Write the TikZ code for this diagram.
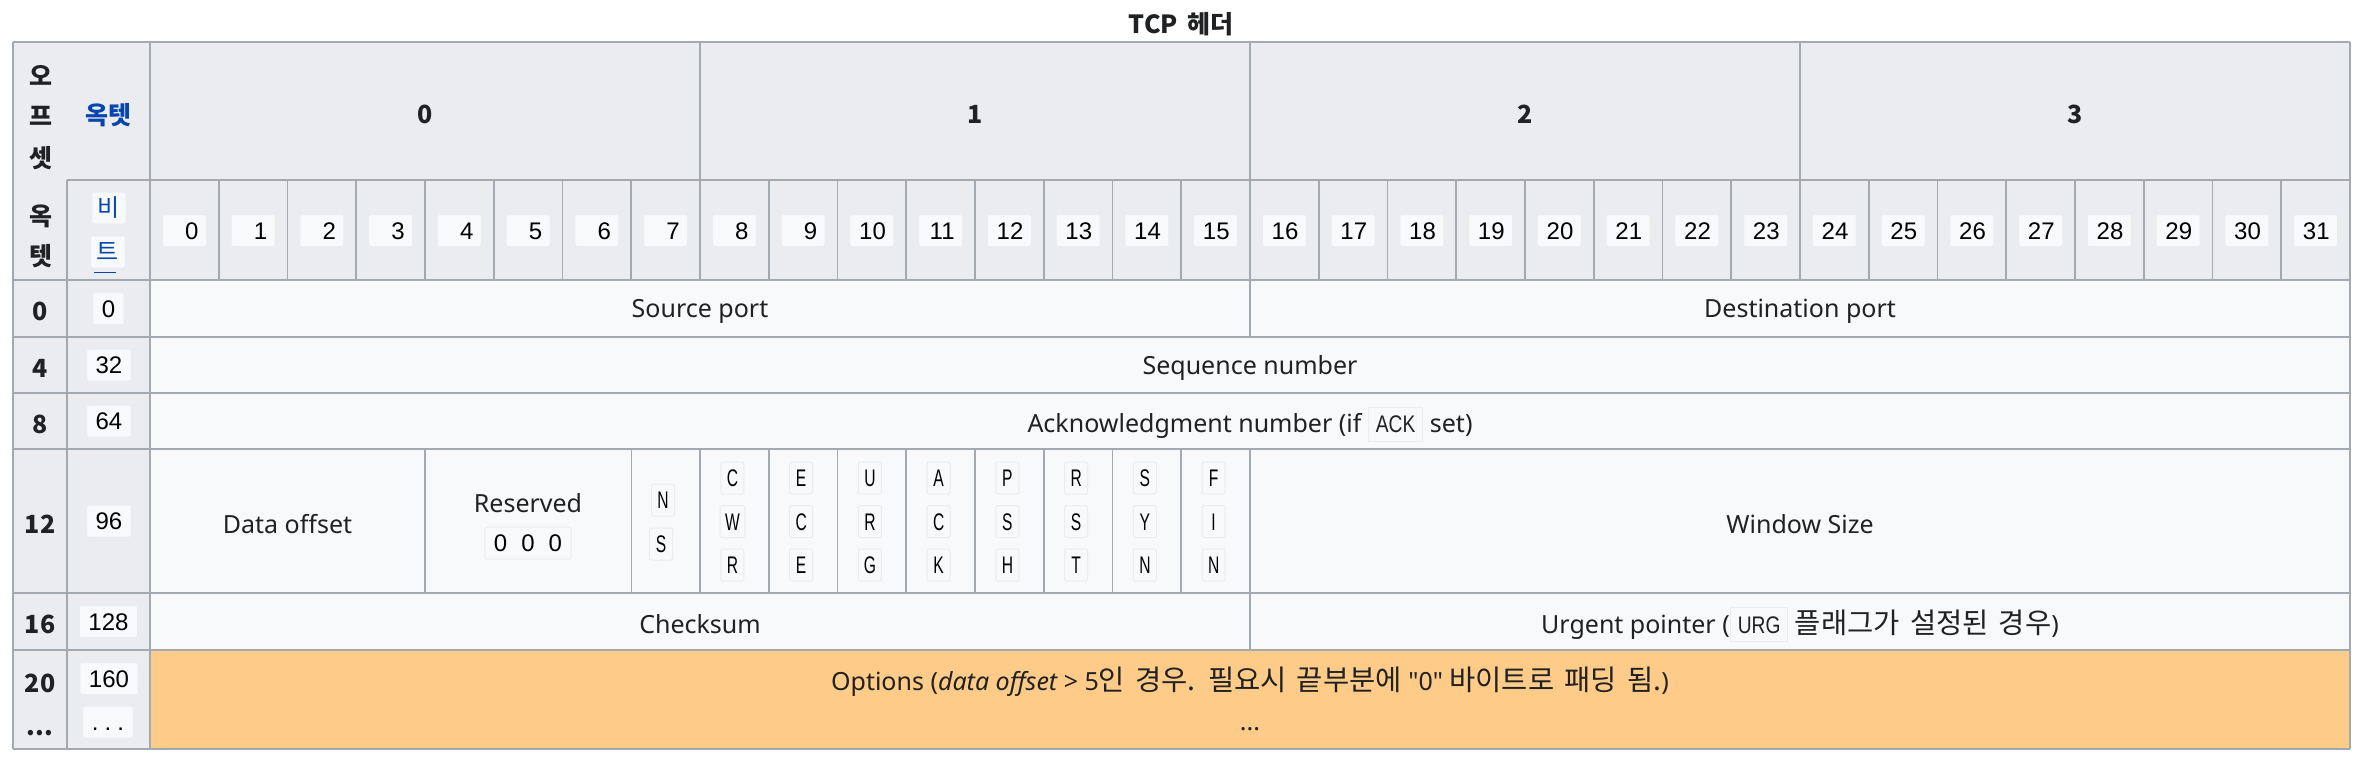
\documentclass[tikz,border=0pt]{standalone}
\usepackage{fontspec}
\setmainfont{Noto Sans}
\newfontfamily\krfont[WordSpace=1.6]{Noto Sans CJK KR}
\newfontfamily\codefont{Liberation Sans}
\newfontfamily\flagfont[FakeStretch=0.65]{Liberation Sans}
\newfontfamily\ackfont[FakeStretch=0.8]{Liberation Sans}
\definecolor{hdr}{HTML}{EAECF0}
\definecolor{cellbg}{HTML}{F8F9FA}
\definecolor{bd}{HTML}{A2A9B1}
\definecolor{optbg}{HTML}{FFCB88}
\definecolor{tx}{HTML}{202122}
\definecolor{lnk}{HTML}{0645AD}
\definecolor{codebg}{HTML}{F8F9FA}
\definecolor{codebd}{HTML}{EAECF0}
\newcommand\kr[1]{{\krfont\fontsize{28.5}{30}\selectfont #1}}
\newcommand\codebx[1]{{\setlength\fboxsep{0pt}\setlength\fboxrule{1pt}\fcolorbox{codebd}{codebg}{\hspace{7pt}\rule[-8pt]{0pt}{33pt}{\ackfont\fontsize{24}{28}\selectfont #1}\hspace{7pt}}}}
\tikzset{
  grid/.style={draw=bd, line width=1.6pt},
  thingrid/.style={draw=bd, line width=0.9pt},
  txt/.style={font=\fontsize{25}{30}\selectfont, text=tx, inner sep=0pt, yshift=-3pt},
  hb/.style={font=\krfont\fontsize{25}{30}\selectfont\bfseries, text=tx, inner sep=0pt, yshift=-3pt},
  codebox/.style={fill=codebg, draw=codebd, line width=1pt, rounded corners=2pt,
    font=\codefont\fontsize{24}{28}\selectfont, text=black, minimum height=32pt,
    inner ysep=0pt, inner xsep=9pt, text height=17pt, text depth=0pt},
  bitbox/.style={codebox, text width=28pt, align=right, inner xsep=8pt},
  flagbox/.style={codebox, font=\flagfont\fontsize{24}{28}\selectfont, inner xsep=5pt, minimum width=23pt},
  linkbox/.style={codebox, font=\krfont\fontsize{24}{28}\selectfont, text=lnk, inner xsep=6pt, text height=19pt, text depth=3pt},
}
\begin{document}
\begin{tikzpicture}[x=1pt,y=-1pt]
\useasboundingbox (0,0) rectangle (2362,780);
\fill[white] (0,0) rectangle (2362,780);
% fills
\fill[hdr] (13,42) rectangle (2350,280);
\fill[hdr] (13,280) rectangle (150,749);
\fill[cellbg] (150,280) rectangle (2350,650);
\fill[optbg] (150,650) rectangle (2350,749);
% horizontal lines
\draw[grid] (13,42) -- (2350,42);
\draw[grid] (67,180) -- (2350,180);
\foreach \y in {280,337,393,449,593,650,749} \draw[grid] (13,\y) -- (2350,\y);
% vertical lines
\draw[grid] (13,42) -- (13,749);
\draw[grid] (67,180) -- (67,749);
\draw[grid] (150,42) -- (150,749);
\draw[grid] (2350,42) -- (2350,749);
\foreach \x in {700,1250,1800} \draw[grid] (\x,42) -- (\x,280);
\foreach \i in {1,...,31} \draw[grid] ({150+68.75*\i},180) -- ({150+68.75*\i},280);
\draw[grid] (1250,280) -- (1250,337);
\draw[grid] (1250,593) -- (1250,650);
\draw[grid] (425,449) -- (425,593);
\draw[thingrid] (631.25,449) -- (631.25,593);
\foreach \i in {8,...,16} \draw[grid] ({150+68.75*\i},449) -- ({150+68.75*\i},593);
% title
\node[hb] (title) at (1181,21) {TCP 헤더};
% left header column
\node[hb] (o1) at (41,72) {오};
\node[hb] (o2) at (41,113) {프};
\node[hb] (o3) at (41,155) {셋};
\node[hb] (o4) at (41,213) {옥};
\node[hb] (o5) at (41,253) {텟};
\node[hb, text=lnk] (octet) at (108,112) {옥텟};
\node[linkbox] (bi1) at (109,208) {비};
\node[linkbox] (bi2) at (108,252) {트};
\draw[lnk, line width=1pt] ([xshift=4pt,yshift=-4pt]bi2.south west) -- ([xshift=-10pt,yshift=-4pt]bi2.south east);
% octet numbers
\node[hb] (oc0) at (425,111) {0};
\node[hb] (oc1) at (975,111) {1};
\node[hb] (oc2) at (1525,111) {2};
\node[hb] (oc3) at (2075,111) {3};
% bit numbers
\foreach \i in {0,...,31} \node[bitbox] (b\i) at ({184.375+68.75*\i},230.5) {\i};
% row labels
\node[hb] (r0) at (40,308.5) {0};
\node[hb] (r4) at (40,365) {4};
\node[hb] (r8) at (40,421) {8};
\node[hb] (r12) at (40,521) {12};
\node[hb] (r16) at (40,621.5) {16};
\node[hb] (r20) at (40,680) {20};
\node[hb] (rdots) at (40,730) {...};
\node[codebox] (c0) at (108.5,308.5) {0};
\node[codebox] (c32) at (109,365) {32};
\node[codebox] (c64) at (109,421) {64};
\node[codebox] (c96) at (109,521) {96};
\node[codebox] (c128) at (108.5,621.5) {128};
\node[codebox] (c160) at (109,678.5) {160};
\node[codebox] (cdots) at (108,722) {.\hspace{6pt}.\hspace{6pt}.};
% fields
\node[txt] (src) at (700,308.5) {Source port};
\node[txt] (dst) at (1800,308.5) {Destination port};
\node[txt] (seq) at (1250,365) {Sequence number};
\node[txt] (ack) at (1250,421) {Acknowledgment number (if \codebx{ACK} set)};
\node[txt] (doff) at (287.5,521) {Data offset};
\node[txt] (res) at (528,500) {Reserved};
\node[codebox, minimum width=85pt] (res0) at (528,543) {0\hspace{14pt}0\hspace{14pt}0};
\node[flagbox] (ns1) at (663,500) {N};
\node[flagbox] (ns2) at (661,544) {S};
\foreach \a/\b/\c [count=\k from 0] in {C/W/R,E/C/E,U/R/G,A/C/K,P/S/H,R/S/T,S/Y/N,F/I/N} {
  \node[flagbox] (f\k-1) at ({150+68.75*(8+\k)+32.4},478) {\a};
  \node[flagbox] (f\k-2) at ({150+68.75*(8+\k)+32.4},521.5) {\b};
  \node[flagbox] (f\k-3) at ({150+68.75*(8+\k)+32.4},565) {\c};
}
\node[txt] (win) at (1800,521) {Window Size};
\node[txt] (chk) at (700,621.5) {Checksum};
\node[txt] (urg) at (1800,621.5) {Urgent pointer (\codebx{URG} \kr{플래그가 설정된 경우})};
\node[txt] (opt) at (1250,679) {Options ({\itshape data offset} > 5\kr{인 경우. 필요시 끝부분에} \textquotedbl0\textquotedbl{} \kr{바이트로 패딩 됨.})};
\node[txt] (optdots) at (1250,726.5) {...};
\end{tikzpicture}
\end{document}
